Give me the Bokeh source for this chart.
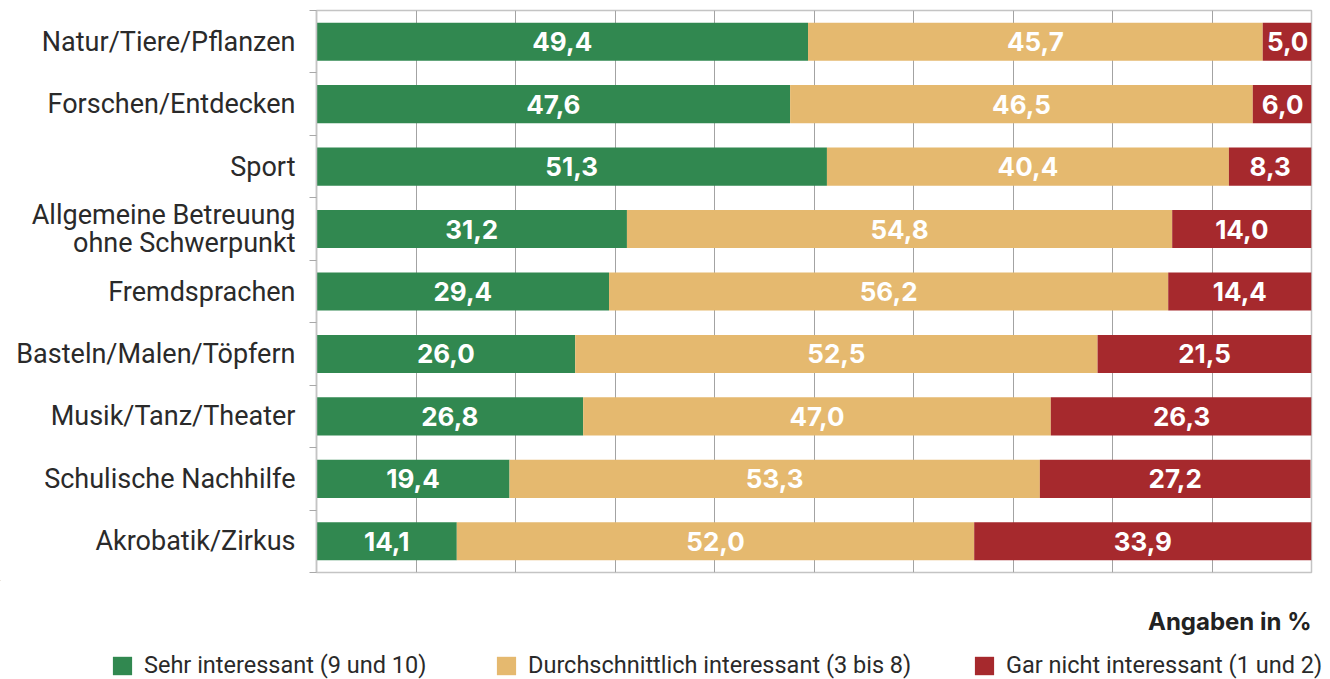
import numpy as np
from bokeh.plotting import figure
from bokeh.layouts import column
from bokeh.models import ColumnDataSource, Range1d, FixedTicker, Legend, LegendItem
from bokeh.core.properties import value
from bokeh.embed import file_html
from bokeh.resources import INLINE

# ---- data ----
categories = [
    "Natur/Tiere/Pflanzen",
    "Forschen/Entdecken",
    "Sport",
    "Allgemeine Betreuung\nohne Schwerpunkt",
    "Fremdsprachen",
    "Basteln/Malen/Töpfern",
    "Musik/Tanz/Theater",
    "Schulische Nachhilfe",
    "Akrobatik/Zirkus",
]
sehr = [49.4, 47.6, 51.3, 31.2, 29.4, 26.0, 26.8, 19.4, 14.1]
durch = [45.7, 46.5, 40.4, 54.8, 56.2, 52.5, 47.0, 53.3, 52.0]
gar = [5.0, 6.0, 8.3, 14.0, 14.4, 21.5, 26.3, 27.2, 33.9]
series_names = [
    "Sehr interessant (9 und 10)",
    "Durchschnittlich interessant (3 bis 8)",
    "Gar nicht interessant (1 und 2)",
]
unit_note = "Angaben in %"

# ---- styling ----
colors = ["#318850", "#e5b96f", "#a6292d"]
LABEL_FONT = "Roboto"
VALUE_FONT = "Inter"
W = 1322

n = len(categories)
ypos = [n - 1 - i for i in range(n)]
boundaries = [k - 0.5 for k in range(n + 1)]

p = figure(
    width=W, height=580,
    x_range=Range1d(0, 100), y_range=Range1d(-0.5, n - 0.5),
    output_backend="svg", toolbar_location=None,
    min_border_left=316, min_border_right=11, min_border_top=10, min_border_bottom=8,
)
p.frame_align = False
p.background_fill_color = "white"
p.border_fill_color = "white"
p.outline_line_color = "#c4c4c4"
p.outline_line_width = 1.5

p.xaxis.visible = False
p.xgrid.ticker = FixedTicker(ticks=list(range(0, 101, 10)))
p.xgrid.grid_line_color = "#a3a3a3"
p.xgrid.grid_line_width = 1
p.ygrid.visible = False

yax = p.yaxis[0]
yax.ticker = FixedTicker(ticks=ypos, minor_ticks=boundaries)
yax.major_label_overrides = {y: c for y, c in zip(ypos, categories)}
yax.major_tick_line_color = None
yax.major_tick_out = 0
yax.major_tick_in = 0
yax.minor_tick_line_color = "#a8a8a8"
yax.minor_tick_out = 7
yax.minor_tick_in = 0
yax.axis_line_color = "#c4c4c4"
yax.axis_line_width = 1.5
yax.major_label_standoff = 14
yax.major_label_text_font = LABEL_FONT
yax.major_label_text_font_size = "27px"
yax.major_label_text_color = "#2a2a2a"
yax.major_label_text_line_height = 0.85

series = [sehr, durch, gar]
left = np.zeros(n)
for k, vals in enumerate(series):
    v = np.array(vals, dtype=float)
    right = left + v
    src = ColumnDataSource(dict(
        y=ypos, left=left, right=right, mid=(left + right) / 2,
        txt=[f"{x:.1f}".replace(".", ",") for x in vals],
    ))
    p.hbar(y="y", left="left", right="right", height=0.61, source=src,
           fill_color=colors[k], line_color=None)
    p.text(x="mid", y="y", text="txt", source=src, text_align="center",
           text_baseline="middle", text_color="white",
           text_font=value(VALUE_FONT), text_font_style="bold", text_font_size="26px")
    left = right

# ---- footer: unit note + legend ----
H2 = 99
f = figure(
    width=W, height=H2, x_range=Range1d(0, W), y_range=Range1d(H2, 0),
    output_backend="svg", toolbar_location=None,
    min_border_left=0, min_border_right=0, min_border_top=0, min_border_bottom=0,
)
f.frame_align = False
f.axis.visible = False
f.grid.visible = False
f.outline_line_color = None
f.background_fill_color = "white"
f.border_fill_color = "white"

f.text(x=[1311], y=[41], text=[unit_note], text_align="right", text_baseline="alphabetic",
       text_font=value(VALUE_FONT), text_font_style="bold", text_font_size="24px",
       text_color="#222222")

legend_x = [110, 494, 972]
for k in range(3):
    # legend-only renderer, its single point lies far outside the visible ranges
    r = f.hbar(y=[-5000], left=[-5000], right=[-4990], height=1,
               fill_color=colors[k], line_color=None)
    leg = Legend(items=[LegendItem(label=series_names[k], renderers=[r])],
                 location=(legend_x[k], 0), orientation="horizontal",
                 padding=0, margin=0, border_line_color=None, background_fill_alpha=0,
                 glyph_width=24, glyph_height=23, label_standoff=10,
                 label_text_font=LABEL_FONT, label_text_font_size="23.5px",
                 label_text_color="#2a2a2a")
    f.add_layout(leg)

layout = column(p, f, spacing=0)
open("out.html", "w").write(file_html(layout, INLINE))
